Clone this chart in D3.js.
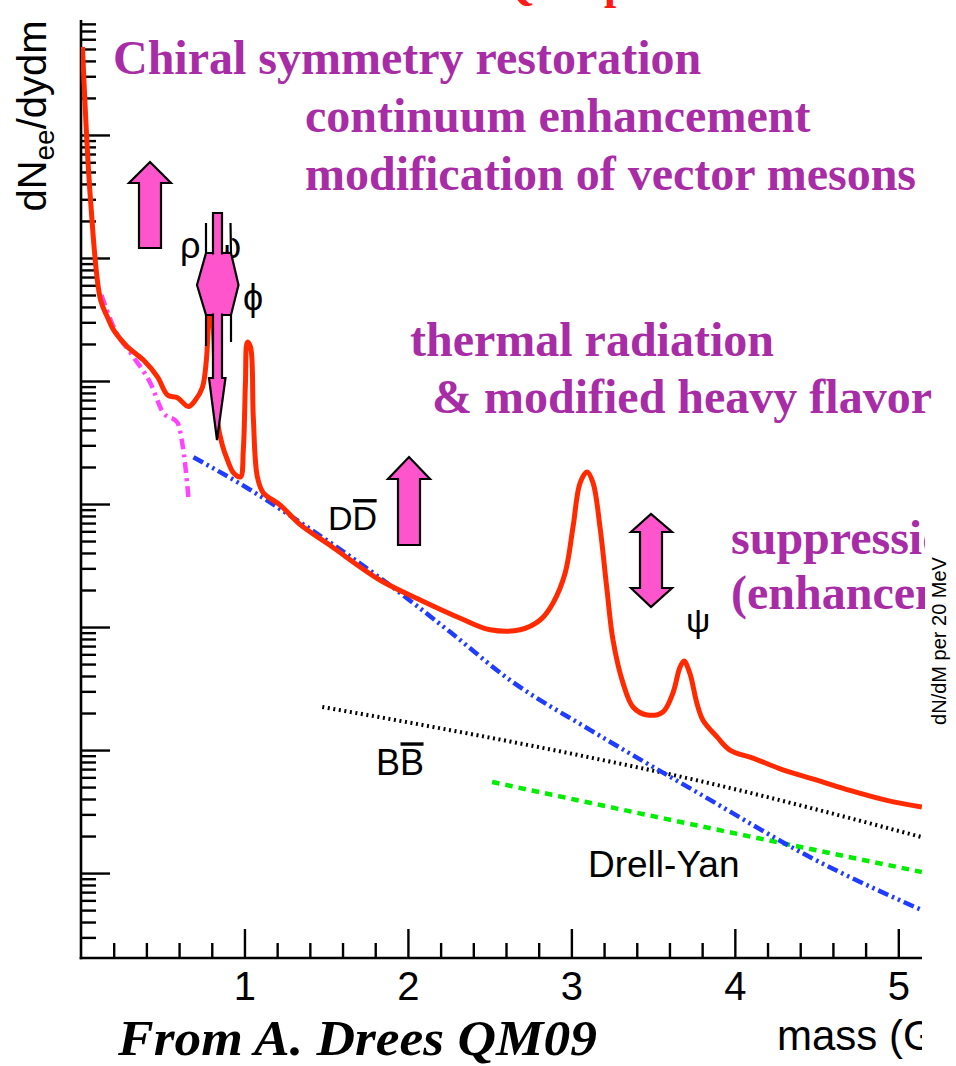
<!DOCTYPE html>
<html>
<head>
<meta charset="utf-8">
<script src="https://cdn.jsdelivr.net/npm/d3@7"></script>
<style>
  body { margin: 0; background: #fff; }
  svg { display: block; }
</style>
</head>
<body>
<svg id="chart" width="956" height="1066"></svg>
<script>
// ---- Dielectron mass spectrum (arbitrary units, log scale) ----
// Total cocktail (solid red)
const totalMass = [0.009, 0.058, 0.119, 0.162, 0.199, 0.284, 0.382, 0.468, 0.529, 0.590,
  0.657, 0.700, 0.743, 0.767, 0.779, 0.791, 0.810, 0.834, 0.865, 0.895,
  0.932, 0.975, 0.993, 1.006, 1.018, 1.037, 1.054, 1.079, 1.116, 1.219,
  1.341, 1.525, 1.831, 2.075, 2.320, 2.503, 2.686, 2.809, 2.888, 2.962,
  3.010, 3.053, 3.096, 3.133, 3.175, 3.218, 3.255, 3.316, 3.377, 3.463,
  3.560, 3.621, 3.664, 3.689, 3.725, 3.768, 3.805, 3.891, 3.970, 4.111,
  4.294, 4.502, 4.704, 4.930, 5.144];
const totalYield = [5.2, 0.30, 0.046, 0.033, 0.026, 0.019, 0.0148, 0.0108, 0.0077, 0.0073,
  0.0062, 0.0070, 0.0089, 0.0148, 0.0285, 0.05, 0.026, 0.0048, 0.0030, 0.0023,
  0.0018, 0.00166, 0.00275, 0.0096, 0.0207, 0.0189, 0.0051, 0.00166, 0.00123, 0.00098,
  0.00068, 0.00046, 0.00024, 0.000166, 0.000118, 9.5e-5, 9.5e-5, 1.14e-4, 1.57e-4, 2.75e-4,
  6.5e-4, 1.48e-3, 1.82e-3, 1.48e-3, 6.5e-4, 2.0e-4, 7.8e-5, 3.5e-5, 2.24e-5, 1.93e-5,
  2.04e-5, 2.9e-5, 4.7e-5, 5.3e-5, 4.2e-5, 2.4e-5, 1.75e-5, 1.28e-5, 1.0e-5, 8.6e-6,
  6.9e-6, 5.7e-6, 4.7e-6, 3.9e-6, 3.44e-6];

// Dalitz decays (magenta dash-dot)
const dalitzMass = [0.125, 0.199, 0.321, 0.425, 0.504, 0.590, 0.620, 0.639, 0.657];
const dalitzYield = [0.05, 0.0275, 0.0157, 0.0096, 0.0055, 0.0046, 0.0031, 0.0020, 0.00114];

// Open charm, D Dbar (blue dash-dot-dot)
const charmMass = [0.688, 1.037, 1.341, 1.831, 2.259, 2.625, 3.114, 3.786, 4.459, 5.144];
const charmYield = [0.0024, 0.0013, 0.00071, 0.00025, 9.1e-5, 3.7e-5, 1.46e-5, 4.4e-6, 1.35e-6, 5.0e-7];

// Open beauty, B Bbar (black dotted)
const beautyMass = [1.476, 2.155, 2.974, 3.787, 5.144];
const beautyYield = [2.24e-5, 1.54e-5, 9.5e-6, 5.6e-6, 1.96e-6];

// Drell-Yan (green dashed)
const drellYanMass = [2.515, 3.787, 5.144];
const drellYanYield = [5.5e-6, 2.41e-6, 1.02e-6];

// Axis ticks
const xMajorTicks = [1, 2, 3, 4, 5];
const xTickLabels = ["1", "2", "3", "4", "5"];

// ---- layout ----
const svg = d3.select("#chart");
const x = d3.scaleLinear().domain([0, 5.145]).range([81, 922]);
const y = d3.scaleLog().domain([2.04e-7, 8.6]).range([958, 20]);
const [x0, x1] = x.range();
const [yBottom, yTop] = y.range();

const purple = "#a82ca6";
const pink = "#ff55cc";
const sans = "'Liberation Sans', Arial, Helvetica, sans-serif";
const serif = "'Liberation Serif', 'Times New Roman', Times, serif";

const defs = svg.append("defs");
defs.append("clipPath").attr("id", "plotClip")
  .append("rect").attr("x", x0).attr("y", yTop).attr("width", x1 - x0).attr("height", yBottom - yTop);
defs.append("clipPath").attr("id", "rightClip")
  .append("rect").attr("x", 0).attr("y", 0).attr("width", 925).attr("height", 1066);
defs.append("clipPath").attr("id", "axisTitleClip")
  .append("rect").attr("x", 0).attr("y", 0).attr("width", x1).attr("height", 1066);

// ---- red heading running off the top edge ----
const headY = -1;
svg.append("text")
  .attr("x", 500).attr("y", headY).attr("text-anchor", "end")
  .attr("font-family", serif).attr("font-weight", "bold")
  .attr("font-size", 44).attr("fill", "#ff1a1a").text("Probes of ");
svg.append("text")
  .attr("x", 500).attr("y", headY).attr("font-family", serif).attr("font-weight", "bold")
  .attr("font-size", 44).attr("fill", "#ff1a1a").text("QGP phase");

// ---- axes ----
const yMinor = [];
const yMajor = [];
for (let k = -7; k <= 1; k++) {
  for (let j = 1; j <= 9; j++) {
    const v = j * Math.pow(10, k);
    if (v < y.domain()[0] * 1.001 || v > y.domain()[1]) continue;
    (j === 1 ? yMajor : yMinor).push(v);
  }
}
const xMinor = d3.range(1, 26).map(i => i * 0.2).filter(v => Math.abs(v - Math.round(v)) > 1e-6 && v < 5.145);

function styleAxis(g) {
  g.select(".domain").remove();
  g.selectAll(".tick line").attr("stroke", "#000").attr("stroke-width", 2.4);
  g.selectAll(".tick text").remove();
}

svg.append("g").attr("transform", `translate(${x0},0)`)
  .call(d3.axisRight(y).tickValues(yMinor).tickSize(15).tickFormat(""))
  .call(styleAxis);
svg.append("g").attr("transform", `translate(${x0},0)`)
  .call(d3.axisRight(y).tickValues(yMajor).tickSize(29).tickFormat(""))
  .call(styleAxis);

svg.append("g").attr("transform", `translate(0,${yBottom})`)
  .call(d3.axisTop(x).tickValues(xMinor).tickSize(15).tickFormat(""))
  .call(styleAxis);
svg.append("g").attr("transform", `translate(0,${yBottom})`)
  .call(d3.axisTop(x).tickValues(xMajorTicks).tickSize(29).tickFormat(""))
  .call(styleAxis);

const xLab = svg.append("g").attr("transform", `translate(0,${yBottom})`)
  .call(d3.axisBottom(x).tickValues(xMajorTicks).tickSize(0).tickPadding(14)
    .tickFormat((d, i) => xTickLabels[i]));
xLab.select(".domain").remove();
xLab.selectAll("text").attr("font-family", sans).attr("font-size", 40).attr("fill", "#000");

svg.append("line").attr("x1", x0).attr("x2", x0).attr("y1", yTop).attr("y2", yBottom + 1.2)
  .attr("stroke", "#000").attr("stroke-width", 2.6);
svg.append("line").attr("x1", x0 - 1.3).attr("x2", x1).attr("y1", yBottom).attr("y2", yBottom)
  .attr("stroke", "#000").attr("stroke-width", 2.6);

// axis titles
const yTitle = svg.append("text")
  .attr("transform", "translate(46,116) rotate(-90)")
  .attr("text-anchor", "middle").attr("font-family", sans).attr("font-size", 40).attr("fill", "#000");
yTitle.append("tspan").text("dN");
yTitle.append("tspan").attr("font-size", 28).attr("dy", 8).text("ee");
yTitle.append("tspan").attr("dy", -8).text("/dydm");

svg.append("text").attr("clip-path", "url(#axisTitleClip)")
  .attr("x", 777).attr("y", 1050).attr("font-family", sans).attr("font-size", 42)
  .attr("fill", "#000").text("mass (GeV)");

// ---- curves ----
const pts = (ms, ys) => ms.map((m, i) => [m, ys[i]]);
const smooth = d3.line().x(d => x(d[0])).y(d => y(d[1])).curve(d3.curveCatmullRom.alpha(0.5));
const mono = d3.line().x(d => x(d[0])).y(d => y(d[1])).curve(d3.curveMonotoneX);

const plot = svg.append("g").attr("clip-path", "url(#plotClip)");
plot.append("path").attr("d", mono(pts(drellYanMass, drellYanYield)))
  .attr("fill", "none").attr("stroke", "#00ee00").attr("stroke-width", 4.5).attr("stroke-dasharray", "7.5,6");
plot.append("path").attr("d", mono(pts(beautyMass, beautyYield)))
  .attr("fill", "none").attr("stroke", "#000").attr("stroke-width", 4).attr("stroke-dasharray", "2,3.6");
plot.append("path").attr("d", mono(pts(charmMass, charmYield)))
  .attr("fill", "none").attr("stroke", "#1f3cff").attr("stroke-width", 4.5).attr("stroke-dasharray", "11,4,2.5,4,2.5,4");
plot.append("path").attr("d", mono(pts(dalitzMass, dalitzYield)))
  .attr("fill", "none").attr("stroke", "#ff44ff").attr("stroke-width", 4.5).attr("stroke-dasharray", "11,5,3,5");
plot.append("path").attr("d", smooth(pts(totalMass, totalYield)))
  .attr("fill", "none").attr("stroke", "#ff2a00").attr("stroke-width", 5).attr("stroke-linejoin", "round");

// ---- particle labels ----
const greek = (t, px, py, fs) => svg.append("text").attr("x", px).attr("y", py)
  .attr("font-family", sans).attr("font-size", fs).attr("fill", "#000").text(t);
greek("ρ", 180, 258, 36);
greek("ω", 213, 258, 36);
greek("\u03D5", 243, 310, 36);
greek("ψ", 686, 632, 34);

function barred(a, px, py, fs) {
  const t = svg.append("text").attr("x", px).attr("y", py)
    .attr("font-family", sans).attr("font-size", fs).attr("fill", "#000");
  t.append("tspan").text(a);
  t.append("tspan").text(a);
  const n = t.node();
  const w1 = n.getSubStringLength(0, 1);
  const w2 = n.getSubStringLength(1, 1);
  svg.append("line").attr("x1", px + w1 + 0.5).attr("x2", px + w1 + w2 - 0.5)
    .attr("y1", py - fs * 0.86).attr("y2", py - fs * 0.86)
    .attr("stroke", "#000").attr("stroke-width", 3.4);
}
barred("D", 328, 530, 34);
barred("B", 376, 775, 36);

svg.append("text").attr("x", 588).attr("y", 877).attr("font-family", sans)
  .attr("font-size", 37).attr("fill", "#000").text("Drell-Yan");

// ---- arrows ----
function arrowPath(points) {
  svg.append("path").attr("d", "M" + points.map(p => p.join(",")).join("L") + "Z")
    .attr("fill", pink).attr("stroke", "#000").attr("stroke-width", 2.2).attr("stroke-linejoin", "miter");
}
// chiral / continuum enhancement
arrowPath([[139, 248], [139, 183], [129, 183], [150, 162], [171, 183], [161, 183], [161, 248]]);
// open charm enhancement
arrowPath([[398, 545], [398, 479], [388, 479], [409, 457], [430, 479], [420, 479], [420, 545]]);
// J/psi suppression / enhancement
arrowPath([[640, 532], [631, 532], [651, 514], [672, 532], [662, 532], [662, 588], [672, 588],
  [651, 607], [631, 588], [640, 588]]);
// vector meson modification (double arrow with downward arrow through it)
arrowPath([[206, 253], [231, 253], [238.5, 285], [231, 315], [206, 315], [197, 285]]);
[[206, 223, 206, 253], [230.5, 223, 231, 253], [206, 315, 206, 346], [231, 315, 231, 342]]
  .forEach(s => svg.append("line").attr("x1", s[0]).attr("y1", s[1]).attr("x2", s[2]).attr("y2", s[3])
    .attr("stroke", "#000").attr("stroke-width", 2.2));
arrowPath([[213, 213], [222, 213], [222, 378], [225.5, 378], [217, 440], [209, 378], [213, 378]]);
svg.append("rect").attr("x", 211).attr("y", 254.5).attr("width", 13).attr("height", 59).attr("fill", pink);

// ---- physics annotations ----
function note(t, px, py, clip) {
  const e = svg.append("text").attr("x", px).attr("y", py).attr("font-family", serif)
    .attr("font-weight", "bold").attr("font-size", 48).attr("fill", purple).text(t);
  if (clip) e.attr("clip-path", "url(#rightClip)");
}
note("Chiral symmetry restoration", 113, 74);
note("continuum enhancement", 305, 132);
note("modification of vector mesons", 305, 190);
note("thermal radiation", 410, 356);
note("& modified heavy flavor", 432, 413);
note("suppression", 731, 554, true);
note("(enhancement)", 731, 609, true);

// secondary axis title on the right edge
svg.append("text").attr("transform", "translate(946,641) rotate(-90)")
  .attr("text-anchor", "middle").attr("font-family", sans).attr("font-size", 20)
  .attr("fill", "#000").text("dN/dM per 20 MeV");

// citation
svg.append("text").attr("x", 118).attr("y", 1055).attr("font-family", serif)
  .attr("font-weight", "bold").attr("font-style", "italic").attr("font-size", 50)
  .attr("textLength", 479).attr("lengthAdjust", "spacingAndGlyphs")
  .attr("fill", "#000").text("From A. Drees QM09");
</script>
</body>
</html>
